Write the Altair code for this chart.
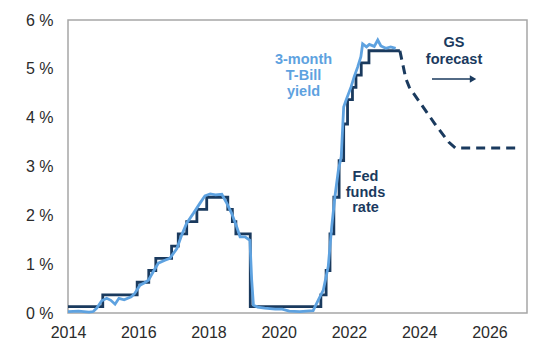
import altair as alt
import pandas as pd

# Fed funds rate (step series), x in chart years
fed_x = [2014.0, 2014.99, 2015.97, 2016.3, 2016.5, 2016.95, 2017.14, 2017.38, 2017.67,
         2017.95, 2018.55, 2018.68, 2018.78, 2019.19, 2021.2, 2021.35, 2021.46, 2021.57,
         2021.72, 2021.85, 2021.96, 2022.1, 2022.2, 2022.35, 2022.57, 2023.45]
fed_y = [0.13, 0.37, 0.63, 0.87, 1.12, 1.37, 1.62, 1.87, 2.12,
         2.37, 2.12, 1.87, 1.62, 0.13, 0.37, 0.87, 1.62, 2.37,
         3.12, 3.87, 4.37, 4.62, 4.87, 5.12, 5.37, 5.37]

# GS forecast (dashed)
fc_x = [2023.45, 2023.62, 2023.72, 2024.07, 2024.46, 2024.84, 2025.03, 2026.8]
fc_y = [5.37, 4.8, 4.62, 4.26, 3.86, 3.5, 3.38, 3.38]

# 3-month T-Bill yield
tb_x = [2014.0, 2014.3, 2014.6, 2014.72, 2014.82, 2014.96, 2015.1, 2015.22, 2015.34, 2015.45,
        2015.6, 2015.8, 2015.9, 2016.05, 2016.18, 2016.29, 2016.43, 2016.57, 2016.76, 2016.9,
        2017.1, 2017.24, 2017.38, 2017.57, 2017.76, 2017.9, 2018.05, 2018.2, 2018.38, 2018.52,
        2018.66, 2018.8, 2018.9, 2019.04, 2019.18, 2019.23, 2019.28, 2019.4, 2019.6, 2019.9,
        2020.1, 2020.3, 2020.6, 2020.98, 2021.13, 2021.27, 2021.41, 2021.51, 2021.6, 2021.7,
        2021.78, 2021.85, 2021.92, 2022.06, 2022.15, 2022.25, 2022.34, 2022.39, 2022.5, 2022.58,
        2022.72, 2022.82, 2022.91, 2023.05, 2023.19, 2023.33]
tb_y = [0.03, 0.04, 0.02, 0.03, 0.1, 0.25, 0.3, 0.26, 0.18, 0.3,
        0.27, 0.33, 0.4, 0.57, 0.62, 0.67, 0.85, 1.02, 1.08, 1.12,
        1.32, 1.6, 1.84, 2.04, 2.25, 2.4, 2.44, 2.42, 2.43, 2.25,
        2.04, 1.77, 1.56, 1.56, 1.49, 0.68, 0.16, 0.12, 0.1, 0.08,
        0.08, 0.04, 0.03, 0.05, 0.27, 0.47, 0.95, 1.77, 2.38, 2.93,
        3.2, 4.22, 4.36, 4.63, 4.84, 5.04, 5.25, 5.51, 5.45, 5.5,
        5.46, 5.59, 5.47, 5.42, 5.45, 5.42]

x_ticks = [2014, 2016, 2018, 2020, 2022, 2024, 2026]
y_ticks = [0, 1, 2, 3, 4, 5, 6]

DARK = "#1a3a5e"
LIGHT = "#5ea2e0"
FONT = "Liberation Sans"

fed = pd.DataFrame({"x": fed_x, "y": fed_y})
fc = pd.DataFrame({"x": fc_x, "y": fc_y})
tb = pd.DataFrame({"x": tb_x, "y": tb_y})

xs = alt.Scale(domain=[2014, 2027.07], nice=False)
ys = alt.Scale(domain=[0, 6], nice=False)

x_enc = alt.X("x:Q", scale=xs, axis=alt.Axis(values=x_ticks, format="d", title=None, grid=False,
                                             ticks=False, domain=False, labelFlush=False,
                                             labelPadding=11, labelFontSize=16, labelFont=FONT,
                                             labelColor="#2b2b2b"))
y_enc = alt.Y("y:Q", scale=ys, axis=alt.Axis(values=y_ticks, title=None, grid=False, ticks=False,
                                             domain=False, labelFlush=False, labelPadding=15,
                                             labelFontSize=16, labelFont=FONT, labelColor="#2b2b2b",
                                             labelExpr="datum.value + ' %'"))

fed_line = alt.Chart(fed).mark_line(color=DARK, strokeWidth=2.8, interpolate="step-after").encode(x=x_enc, y=y_enc)
fc_line = alt.Chart(fc).mark_line(color=DARK, strokeWidth=3, strokeDash=[9, 6]).encode(x=x_enc, y=y_enc)
tb_line = alt.Chart(tb).mark_line(color=LIGHT, strokeWidth=2.8).encode(x=x_enc, y=y_enc)

base = alt.Chart(pd.DataFrame({"a": [0]}))
txt_tb = base.mark_text(text=["3-month", "T-Bill", "yield"], font=FONT, fontWeight="bold", fontSize=14.5,
                        color=LIGHT, align="center", baseline="middle", lineHeight=16).encode(
    x=alt.value(235.5), y=alt.value(40))
txt_fed = base.mark_text(text=["Fed", "funds", "rate"], font=FONT, fontWeight="bold", fontSize=14.5,
                         color=DARK, align="center", baseline="middle", lineHeight=15.5).encode(
    x=alt.value(297.5), y=alt.value(157))
txt_gs = base.mark_text(text=["GS", "forecast"], font=FONT, fontWeight="bold", fontSize=14.5,
                        color=DARK, align="center", baseline="middle", lineHeight=17).encode(
    x=alt.value(386), y=alt.value(23))
arrow_shaft = base.mark_rule(color=DARK, strokeWidth=1.6).encode(
    x=alt.value(364), x2=alt.value(402), y=alt.value(59))
arrow_head = base.mark_point(shape="triangle-right", filled=True, color=DARK, size=55, opacity=1).encode(
    x=alt.value(405), y=alt.value(59))

chart = alt.layer(fed_line, fc_line, tb_line, txt_tb, txt_fed, txt_gs, arrow_shaft, arrow_head).properties(
    width=459, height=293,
    autosize=alt.AutoSizeParams(type="none"),
    padding={"left": 68, "top": 20, "right": 29, "bottom": 42},
    background="white",
).configure_view(stroke="#a6a6a6", strokeWidth=1.5)

chart.save("out.html", embed_options={"renderer": "svg", "actions": False})
